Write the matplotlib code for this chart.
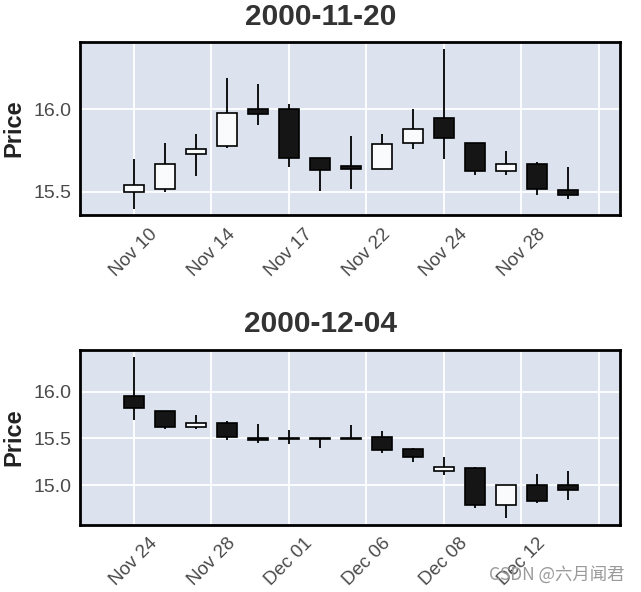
import matplotlib
matplotlib.use("Agg")
import matplotlib.pyplot as plt
import numpy as np

plt.rcParams['font.family'] = ['Liberation Sans', 'DejaVu Sans']

# ---- data ----
titles = ["2000-11-20", "2000-12-04"]

open1  = [15.50, 15.515, 15.727, 15.779, 16.00, 16.00, 15.706, 15.656, 15.636, 15.794, 15.949, 15.797, 15.626, 15.668, 15.51]
high1  = [15.70, 15.794, 15.848, 16.188, 16.153, 16.03, 15.706, 15.838, 15.848, 16.00, 16.364, 15.797, 15.749, 15.682, 15.652]
low1   = [15.393, 15.498, 15.597, 15.763, 15.903, 15.652, 15.506, 15.516, 15.636, 15.759, 15.698, 15.601, 15.601, 15.48, 15.456]
close1 = [15.539, 15.668, 15.759, 15.979, 15.97, 15.703, 15.633, 15.636, 15.788, 15.88, 15.824, 15.626, 15.668, 15.515, 15.482]
labels1 = ["Nov 10", "Nov 14", "Nov 17", "Nov 22", "Nov 24", "Nov 28", ""]

open2  = [15.949, 15.797, 15.626, 15.668, 15.51, 15.51, 15.51, 15.51, 15.52, 15.39, 15.156, 15.19, 14.795, 15.004, 15.004]
high2  = [16.364, 15.797, 15.749, 15.682, 15.652, 15.592, 15.51, 15.646, 15.585, 15.395, 15.30, 15.20, 15.00, 15.121, 15.156]
low2   = [15.698, 15.601, 15.601, 15.48, 15.456, 15.44, 15.40, 15.49, 15.345, 15.25, 15.106, 14.76, 14.653, 14.809, 14.84]
close2 = [15.824, 15.626, 15.668, 15.515, 15.482, 15.49, 15.49, 15.49, 15.38, 15.30, 15.196, 14.795, 15.00, 14.837, 14.954]
labels2 = ["Nov 24", "Nov 28", "Dec 01", "Dec 06", "Dec 08", "Dec 12", ""]

yticks1 = [15.5, 16.0]
yticks2 = [15.0, 15.5, 16.0]
ylims = [(15.359, 16.41), (14.582, 16.444)]

W, H = 641, 592
fig = plt.figure(figsize=(W / 100, H / 100), dpi=100)

BG = "#DCE3EF"
UP = "#FAFBFD"
DOWN = "#151515"
TXT = "#4a4a4a"

def px(x0, y0, x1, y1):
    return [x0 / W, 1 - y1 / H, (x1 - x0) / W, (y1 - y0) / H]

axes_rects = [px(80, 41.5, 620, 215), px(80, 350, 620, 524.5)]
title_y = [0.972, 0.452]

datasets = [
    (open1, high1, low1, close1, labels1, yticks1),
    (open2, high2, low2, close2, labels2, yticks2),
]

for k, (o, h, l, c, labs, yt) in enumerate(datasets):
    ax = fig.add_axes(axes_rects[k])
    ax.set_facecolor(BG)
    o = np.array(o); h = np.array(h); l = np.array(l); c = np.array(c)
    x = np.arange(len(o))
    up = c >= o
    ax.vlines(x, l, h, color="black", lw=1.3, zorder=2)
    bottoms = np.minimum(o, c)
    heights = np.abs(c - o)
    colors = [UP if u else DOWN for u in up]
    ax.bar(x, heights, bottom=bottoms, width=0.66, color=colors,
           edgecolor="black", linewidth=1.2, zorder=3)
    ax.set_xlim(-1.74, 15.68)
    ax.set_ylim(*ylims[k])
    xt = np.arange(0, 15.01, 2.5)
    ax.set_xticks(xt)
    ax.set_xticklabels(labs, rotation=45, ha="center", fontsize=13.5, color=TXT)
    ax.set_yticks(yt)
    ax.set_yticklabels([f"{v:.1f}" for v in yt], fontsize=14, color=TXT)
    ax.tick_params(length=0, pad=6)
    ax.tick_params(axis="x", pad=7.5)
    ax.grid(True, color="white", lw=1.3, zorder=0)
    ax.set_axisbelow(True)
    for s in ax.spines.values():
        s.set_linewidth(2.0)
        s.set_color("black")
    ax.set_ylabel("Price", fontsize=17, fontweight="bold", color="#222222", labelpad=6)
    fig.text(0.5, title_y[k], titles[k], ha="center", va="center",
             fontsize=21.5, fontweight="bold", color="#333333")

fig.text(0.975, 0.029, "CSDN @六月闻君", ha="right", va="center", fontsize=12.5,
         color="#9a9a9a", family=["Noto Sans CJK SC", "DejaVu Sans"])

fig.savefig("out.png", dpi=100)
